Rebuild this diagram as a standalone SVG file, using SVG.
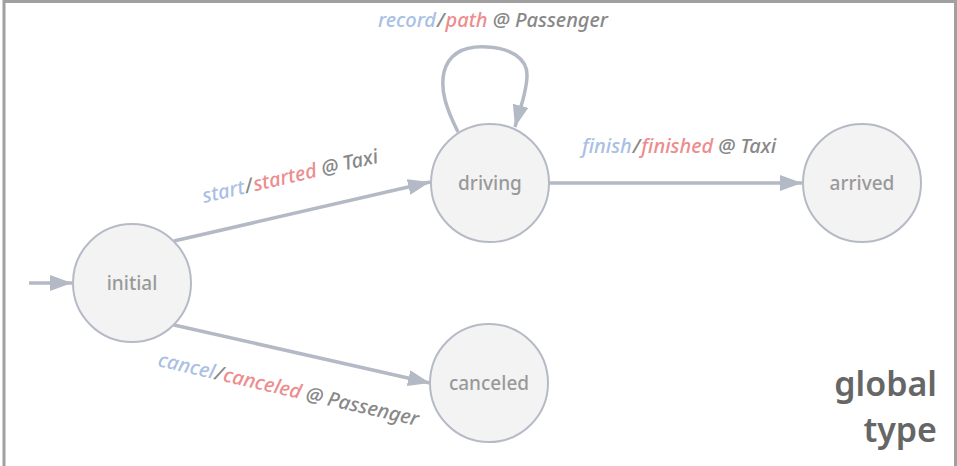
<svg xmlns="http://www.w3.org/2000/svg" width="957" height="466" viewBox="0 0 957 466">
<style>
.node circle{fill:#f3f3f3;stroke:#b5bac6;stroke-width:2}
.node text{font-family:"Noto Sans","Open Sans",sans-serif;font-size:19px;font-weight:500;fill:#999;text-anchor:middle}
.edge{fill:none;stroke:#b3b9c5;stroke-width:3.5}
.lbl{font-family:"Noto Sans","Open Sans",sans-serif;font-size:20px;font-style:italic;font-weight:500}
.m{fill:#a9c0e4}.r{fill:#ec8d8d}.g{fill:#888}
.title{font-family:"Noto Sans","Open Sans",sans-serif;font-size:34px;font-weight:600;fill:#666;text-anchor:end}
</style>
<defs>
<marker id="ah" markerUnits="userSpaceOnUse" markerWidth="24" markerHeight="18" refX="22" refY="8" orient="auto">
<path d="M0,0 L22,8 L0,16 Z" fill="#b3b9c5"/>
</marker>
</defs>
<rect x="0" y="0" width="957" height="466" fill="#fff"/>
<path d="M4,470 V1.5 H955.5 V470" fill="none" stroke="#a0a0a0" stroke-width="3"/>
<g id="connectors">
<line class="edge" x1="29" y1="283" x2="72" y2="283" marker-end="url(#ah)"/>
<line class="edge" x1="174" y1="241" x2="430" y2="182" marker-end="url(#ah)"/>
<line class="edge" x1="174" y1="325" x2="430" y2="383" marker-end="url(#ah)"/>
<line class="edge" x1="549" y1="183" x2="802" y2="183" marker-end="url(#ah)"/>
<path class="edge" d="M458,132 C446,108 440,90 444,72 C450,50 470,46 487,47 C510,48 527,58 527,75 C527,92 520,108 515,127" marker-end="url(#ah)"/>
<text class="lbl" x="378" y="27"><tspan class="m">record</tspan><tspan class="g" dx="1">/</tspan><tspan class="r" dx="1">path</tspan><tspan class="g"> @ Passenger</tspan></text>
<text class="lbl" transform="translate(204,203) rotate(-13)"><tspan class="m">start</tspan><tspan class="g" dx="1">/</tspan><tspan class="r" dx="1">started</tspan><tspan class="g"> @ Taxi</tspan></text>
<text class="lbl" x="582" y="153"><tspan class="m">finish</tspan><tspan class="g" dx="1">/</tspan><tspan class="r" dx="1">finished</tspan><tspan class="g"> @ Taxi</tspan></text>
<text class="lbl" transform="translate(157,366) rotate(13)"><tspan class="m">cancel</tspan><tspan class="g" dx="1">/</tspan><tspan class="r" dx="1">canceled</tspan><tspan class="g"> @ Passenger</tspan></text>
</g>
<g id="initial" class="node"><circle cx="132" cy="283" r="59"/><text x="132" y="290">initial</text></g>
<g id="driving" class="node"><circle cx="490" cy="183" r="59"/><text x="490" y="190">driving</text></g>
<g id="arrived" class="node"><circle cx="862" cy="183" r="59"/><text x="862" y="190">arrived</text></g>
<g id="canceled" class="node"><circle cx="489" cy="383" r="59"/><text x="489" y="390">canceled</text></g>
<text class="title" x="937" y="396">global</text>
<text class="title" x="937" y="442">type</text>
</svg>
